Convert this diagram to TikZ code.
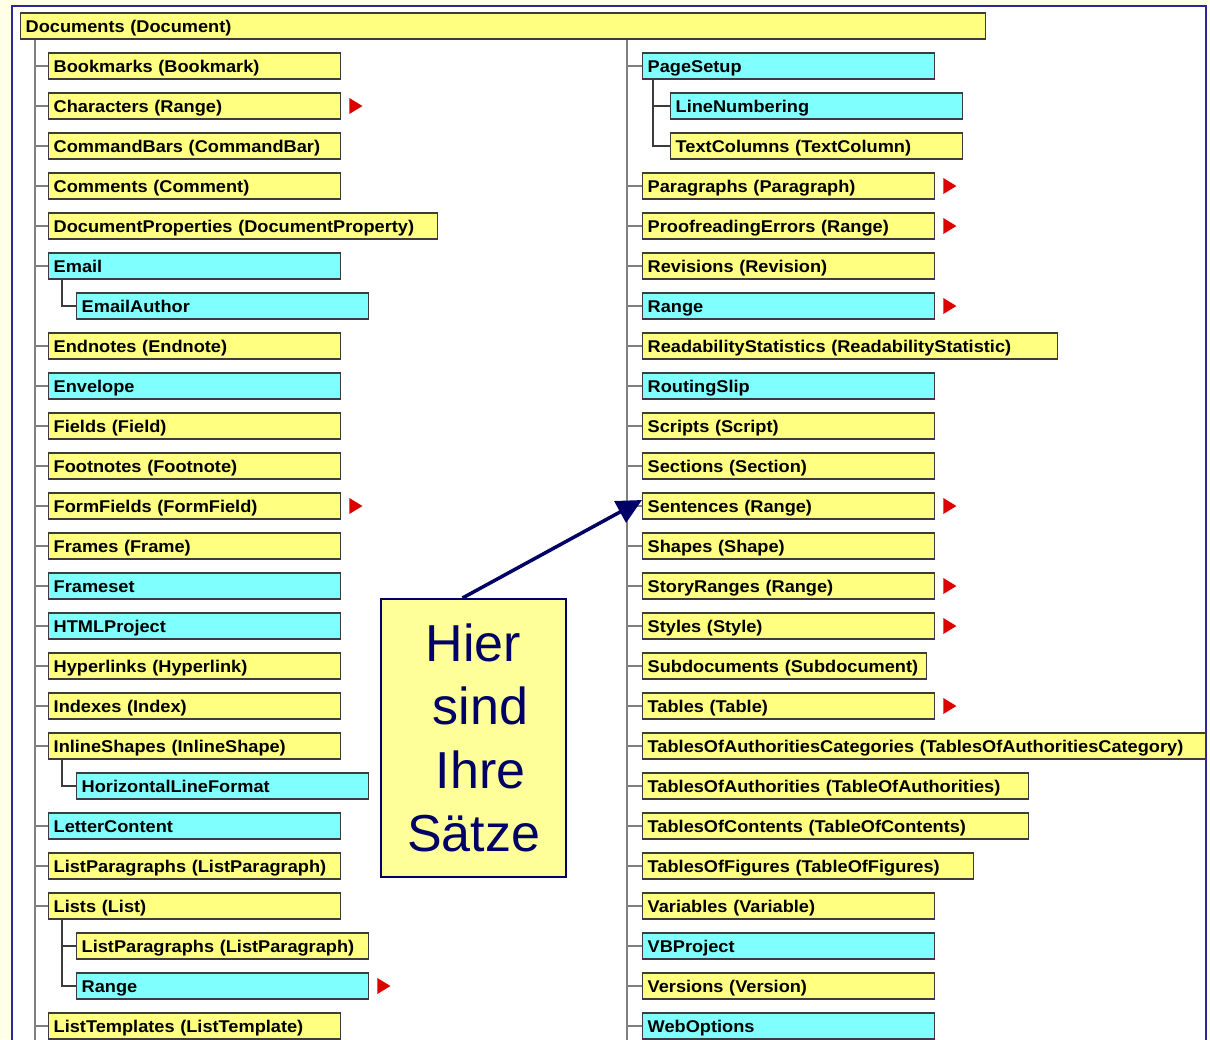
\documentclass[tikz,border=0pt]{standalone}
\usepackage{fontspec}
\usetikzlibrary{arrows.meta}
\newfontfamily\boxfontfam[FakeStretch=1.07]{Liberation Sans}
\newfontfamily\callfontfam{Liberation Sans}
\definecolor{bgcream}{RGB}{255,255,232}
\definecolor{framecol}{RGB}{40,40,150}
\definecolor{boxyellow}{RGB}{255,255,128}
\definecolor{boxcyan}{RGB}{128,255,255}
\definecolor{boxline}{RGB}{60,60,60}
\definecolor{trunkcol}{RGB}{128,128,128}
\definecolor{markred}{RGB}{220,0,0}
\definecolor{callfill}{RGB}{255,255,153}
\definecolor{navyc}{RGB}{0,0,102}
\newcommand\redmark[1]{\fill[markred] ([xshift=8pt,yshift=8pt]#1.east) -- ([xshift=21pt]#1.east) -- ([xshift=8pt,yshift=-8pt]#1.east) -- cycle;}
\tikzset{
  bx/.style={draw=boxline, line width=1.4pt, anchor=west, minimum height=26pt,
    inner xsep=5pt, inner ysep=0pt, align=left, text height=16pt, text depth=4pt,
    font=\boxfontfam\bfseries\fontsize{17}{20}\selectfont},
  yb/.style={bx, fill=boxyellow, text width=#1}, yb/.default=282pt,
  cb/.style={bx, fill=boxcyan, text width=#1}, cb/.default=282pt,
  trunk/.style={draw=trunkcol, line width=2pt},
  subtrunk/.style={draw=boxline, line width=1.5pt},
  callbox/.style={draw=navyc, fill=callfill, line width=2pt, minimum width=185pt,
    minimum height=278pt, inner sep=0pt, align=center, text=navyc,
    font=\callfontfam\fontsize{52}{63.5}\selectfont},
  callarrow/.style={draw=navyc, line width=3.5pt, -{Triangle[length=25pt,width=24pt]}}
}
\begin{document}
\begin{tikzpicture}[x=1pt,y=-1pt]
\useasboundingbox (0,0) rectangle (1210,1039);
\clip (0,0) rectangle (1210,1039);
\fill[bgcream] (0,0) rectangle (1210,1039);
\filldraw[fill=white, draw=framecol, line width=1.5pt] (12,6) rectangle (1206,1060);

% top box
\node[yb=955pt] (docs) at (20,26) {Documents (Document)};

\coordinate (ltrunk) at (35,1045);
\coordinate (rtrunk) at (627,1045);

% left column
\node[yb] (bm) at (48,66) {Bookmarks (Bookmark)};
\node[yb] (chars) at (48,106) {Characters (Range)};
\node[yb] (cmdbars) at (48,146) {CommandBars (CommandBar)};
\node[yb] (comments) at (48,186) {Comments (Comment)};
\node[yb=379pt] (docprops) at (48,226) {\mbox{DocumentProperties (DocumentProperty)}};
\node[cb] (email) at (48,266) {Email};
\node[cb] (emailauth) at (76,306) {EmailAuthor};
\node[yb] (endnotes) at (48,346) {Endnotes (Endnote)};
\node[cb] (envelope) at (48,386) {Envelope};
\node[yb] (fields) at (48,426) {Fields (Field)};
\node[yb] (footnotes) at (48,466) {Footnotes (Footnote)};
\node[yb] (formfields) at (48,506) {FormFields (FormField)};
\node[yb] (frames) at (48,546) {Frames (Frame)};
\node[cb] (frameset) at (48,586) {Frameset};
\node[cb] (htmlproj) at (48,626) {HTMLProject};
\node[yb] (hyperlinks) at (48,666) {Hyperlinks (Hyperlink)};
\node[yb] (indexes) at (48,706) {Indexes (Index)};
\node[yb] (inlineshapes) at (48,746) {InlineShapes (InlineShape)};
\node[cb] (hlinefmt) at (76,786) {HorizontalLineFormat};
\node[cb] (lettercont) at (48,826) {LetterContent};
\node[yb] (listparas) at (48,866) {\mbox{ListParagraphs (ListParagraph)}};
\node[yb] (lists) at (48,906) {Lists (List)};
\node[yb] (listparas2) at (76,946) {\mbox{ListParagraphs (ListParagraph)}};
\node[cb] (lrange) at (76,986) {Range};
\node[yb] (listtempl) at (48,1026) {ListTemplates (ListTemplate)};

% right column
\node[cb] (pagesetup) at (642,66) {PageSetup};
\node[cb] (linenum) at (670,106) {LineNumbering};
\node[yb] (textcols) at (670,146) {TextColumns (TextColumn)};
\node[yb] (paras) at (642,186) {Paragraphs (Paragraph)};
\node[yb] (proof) at (642,226) {ProofreadingErrors (Range)};
\node[yb] (revisions) at (642,266) {Revisions (Revision)};
\node[cb] (rrange) at (642,306) {Range};
\node[yb=405pt] (readstats) at (642,346) {\mbox{ReadabilityStatistics (ReadabilityStatistic)}};
\node[cb] (routing) at (642,386) {RoutingSlip};
\node[yb] (scripts) at (642,426) {Scripts (Script)};
\node[yb] (sections) at (642,466) {Sections (Section)};
\node[yb] (sent) at (642,506) {Sentences (Range)};
\node[yb] (shapes) at (642,546) {Shapes (Shape)};
\node[yb] (storyr) at (642,586) {StoryRanges (Range)};
\node[yb] (styles) at (642,626) {Styles (Style)};
\node[yb=274pt] (subdocs) at (642,666) {\mbox{Subdocuments (Subdocument)}};
\node[yb] (tables) at (642,706) {Tables (Table)};
\node[yb=553pt] (toacat) at (642,746) {\mbox{TablesOfAuthoritiesCategories (TablesOfAuthoritiesCategory)}};
\node[yb=376pt] (toa) at (642,786) {\mbox{TablesOfAuthorities (TableOfAuthorities)}};
\node[yb=376pt] (toc) at (642,826) {\mbox{TablesOfContents (TableOfContents)}};
\node[yb=321pt] (tof) at (642,866) {\mbox{TablesOfFigures (TableOfFigures)}};
\node[yb] (variables) at (642,906) {Variables (Variable)};
\node[cb] (vbproj) at (642,946) {VBProject};
\node[yb] (versions) at (642,986) {Versions (Version)};
\node[cb] (webopt) at (642,1026) {WebOptions};

% trunks
\draw[trunk] (docs.south west -| ltrunk) -- (ltrunk);
\draw[trunk] (docs.south west -| rtrunk) -- (rtrunk);
\foreach \n in {bm,chars,cmdbars,comments,docprops,email,endnotes,envelope,fields,footnotes,formfields,frames,frameset,htmlproj,hyperlinks,indexes,inlineshapes,lettercont,listparas,lists,listtempl}
  {\draw[trunk] (\n.west -| ltrunk) -- (\n.west);}
\foreach \n in {pagesetup,paras,proof,revisions,rrange,readstats,routing,scripts,sections,sent,shapes,storyr,styles,subdocs,tables,toacat,toa,toc,tof,variables,vbproj,versions,webopt}
  {\draw[trunk] (\n.west -| rtrunk) -- (\n.west);}
% sub trunks
\draw[subtrunk] ([xshift=14pt]email.south west) |- (emailauth.west);
\draw[subtrunk] ([xshift=14pt]inlineshapes.south west) |- (hlinefmt.west);
\draw[subtrunk] ([xshift=14pt]lists.south west) |- (lrange.west);
\draw[subtrunk] ([xshift=14pt]lists.south west |- listparas2.west) -- (listparas2.west);
\draw[subtrunk] ([xshift=11pt]pagesetup.south west) |- (textcols.west);
\draw[subtrunk] ([xshift=11pt]pagesetup.south west |- linenum.west) -- (linenum.west);

% red markers
\redmark{chars}
\redmark{formfields}
\redmark{lrange}
\redmark{paras}
\redmark{proof}
\redmark{rrange}
\redmark{sent}
\redmark{storyr}
\redmark{styles}
\redmark{tables}

% callout
\node[callbox] (callout) at (473.5,738) {Hier\\\hspace*{14pt}sind\\\hspace*{14pt}Ihre\\Sätze};
\draw[callarrow] ([xshift=-11pt]callout.north) -- ([yshift=6pt]sent.west);
\end{tikzpicture}
\end{document}
